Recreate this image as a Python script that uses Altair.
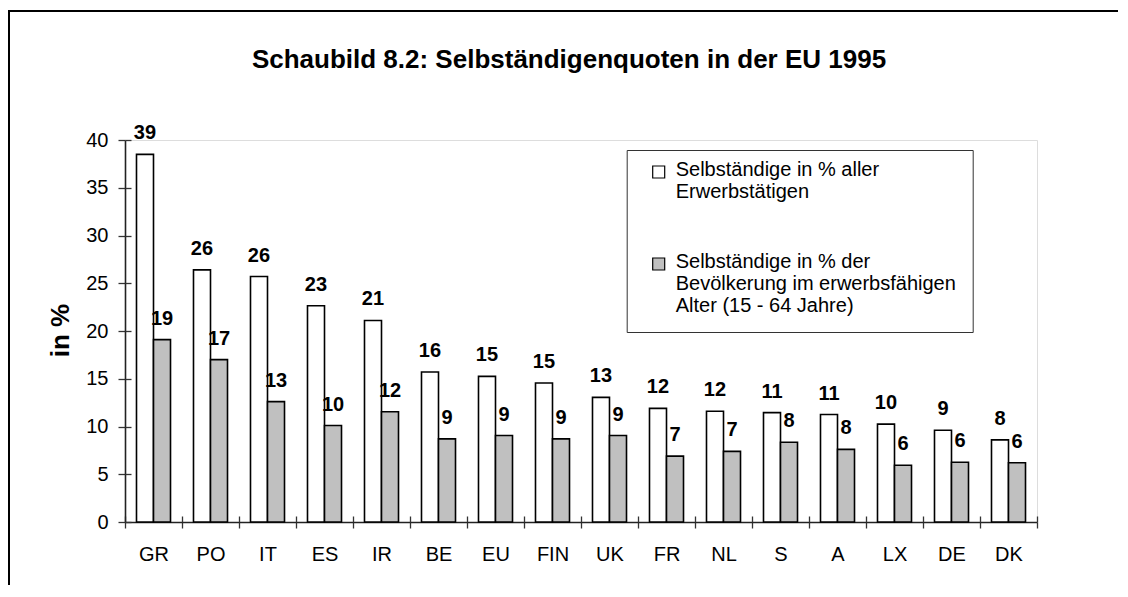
import altair as alt
import pandas as pd

countries = ["GR", "PO", "IT", "ES", "IR", "BE", "EU", "FIN", "UK", "FR", "NL", "S", "A", "LX", "DE", "DK"]
series_names = [
    "Selbständige in % aller\nErwerbstätigen",
    "Selbständige in % der\nBevölkerung im erwerbsfähigen\u00a0\u00a0\nAlter (15 - 64 Jahre)",
]
all_employed = [38.5, 26.4, 25.7, 22.65, 21.1, 15.7, 15.25, 14.55, 13.05, 11.9, 11.6, 11.45, 11.25, 10.25, 9.6, 8.6]
working_age = [19.1, 17.0, 12.6, 10.1, 11.55, 8.7, 9.05, 8.7, 9.05, 6.9, 7.4, 8.35, 7.6, 5.95, 6.25, 6.2]
labels_all = ["39", "26", "26", "23", "21", "16", "15", "15", "13", "12", "12", "11", "11", "10", "9", "8"]
labels_age = ["19", "17", "13", "10", "12", "9", "9", "9", "9", "7", "7", "8", "8", "6", "6", "6"]
y_ticks = [0, 5, 10, 15, 20, 25, 30, 35, 40]

rows = []
for i, c in enumerate(countries):
    rows.append({"Land": c, "Reihe": series_names[0], "Wert": all_employed[i], "Label": labels_all[i]})
    rows.append({"Land": c, "Reihe": series_names[1], "Wert": working_age[i], "Label": labels_age[i]})
df = pd.DataFrame(rows)

FONT = "Liberation Sans"

x_scale = alt.Scale(domain=countries, paddingInner=0, paddingOuter=0)
y_scale = alt.Scale(domain=[0, 40], nice=False)
off_scale = alt.Scale(domain=series_names, paddingInner=0, paddingOuter=0.676)
color_scale = alt.Scale(domain=series_names, range=["#ffffff", "#c0c0c0"])

base = alt.Chart(df)

bars = base.mark_bar(stroke="black", strokeWidth=1.6).encode(
    x=alt.X("Land:N", scale=x_scale, sort=countries, title=None,
            axis=alt.Axis(orient="bottom", labelAngle=0, labelFont=FONT, labelFontSize=20,
                          labelColor="black", labelPadding=16, labelBaseline="top",
                          tickBand="extent", tickSize=6, tickColor="#333", tickWidth=1.3,
                          domainColor="#222", domainWidth=1.6)),
    xOffset=alt.XOffset("Reihe:N", scale=off_scale, sort=series_names),
    y=alt.Y("Wert:Q", scale=y_scale, title="in %",
            axis=alt.Axis(orient="left", values=y_ticks, grid=False, labelFont=FONT, labelFontSize=20,
                          labelColor="black", labelPadding=10, tickSize=7, tickColor="#333",
                          tickWidth=1.3, domainColor="#222", domainWidth=1.6,
                          titleFont=FONT, titleFontSize=26, titleFontWeight="bold",
                          titleColor="black", titleAngle=-90, titleBaseline="alphabetic",
                          titleX=-57, titleY=190)),
    fill=alt.Fill("Reihe:N", scale=color_scale, sort=series_names,
                  legend=alt.Legend(title=None, orient="none", legendX=501.7, legendY=10,
                                    direction="vertical",
                                    symbolType="M-1,-1.667H1V0.333H-1Z", symbolSize=144,
                                    symbolStrokeColor="black", symbolStrokeWidth=1.2,
                                    symbolOffset=6, padding=16, labelOffset=7,
                                    labelFont=FONT, labelFontSize=20, labelColor="black",
                                    labelLimit=500,
                                    labelExpr="split(datum.label, '\\n')",
                                    labelBaseline="alphabetic", rowPadding=50,
                                    strokeColor="#333", fillColor="white")),
)

texts = base.mark_text(font=FONT, fontSize=20, fontWeight="bold", color="black",
                       baseline="alphabetic", dy=-15).encode(
    x=alt.X("Land:N", scale=x_scale, sort=countries, title=None,
            axis=alt.Axis(orient="bottom", offset=-6, labels=False, domain=False,
                          tickBand="extent", tickSize=6, tickColor="#333", tickWidth=1.3)),
    xOffset=alt.XOffset("Reihe:N", scale=off_scale, sort=series_names),
    y=alt.Y("Wert:Q", scale=y_scale, title=None,
            axis=alt.Axis(orient="left", offset=-6, values=y_ticks, labels=False, domain=False,
                          grid=False, tickSize=6, tickColor="#333", tickWidth=1.3)),
    text="Label:N",
)

frame_df = pd.DataFrame({"f": [0]})
frame_left = alt.Chart(frame_df).mark_rect(fill="black", strokeWidth=0).encode(
    x=alt.value(-117), x2=alt.value(-115), y=alt.value(-130), y2=alt.value(460)
)
frame_top = alt.Chart(frame_df).mark_rect(fill="black", strokeWidth=0).encode(
    x=alt.value(-117), x2=alt.value(1000), y=alt.value(-130), y2=alt.value(-128)
)

chart = alt.layer(frame_left, frame_top, bars, texts).resolve_axis(
    x="independent", y="independent"
).properties(
    width=912, height=382,
    autosize=alt.AutoSizeParams(type="none"),
    padding={"left": 117, "top": 132, "right": 81, "bottom": 63},
    title=alt.TitleParams("Schaubild 8.2: Selbständigenquoten in der EU 1995",
                          font=FONT, fontSize=26, fontWeight="bold", color="black",
                          anchor="middle", frame="group", dx=-12, offset=-84,
                          baseline="alphabetic"),
).configure_view(stroke="#808080", strokeWidth=2).configure(background="white")

chart.save("out.html", embed_options={"renderer": "svg", "actions": False})
